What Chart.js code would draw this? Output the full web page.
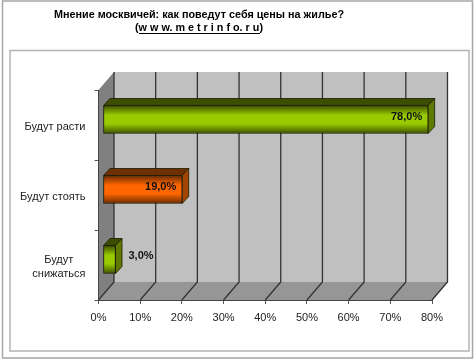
<!DOCTYPE html>
<html><head><meta charset="utf-8">
<style>html,body{margin:0;padding:0;background:#fff}canvas{display:block}</style>
<script src="https://cdn.jsdelivr.net/npm/chart.js@4"></script>
</head><body><canvas id="c" width="475" height="361"></canvas>
<script>
const categories = ["Будут расти", "Будут стоять", ["Будут", "снижаться"]];
const values = [78, 19, 3];
const valueLabels = ["78,0%", "19,0%", "3,0%"];
const faceColors = ["#99cc00", "#ff6600", "#99cc00"];
const edgeColors = ["#3f5200", "#6b2b00", "#3f5200"];
const topColors = ["#3c4c00", "#6e3000", "#3c4c00"];
const sideColors = ["#5f7a00", "#a34400", "#5f7a00"];
const titleLine1 = "Мнение москвичей: как поведут себя цены на жилье?";
const titleLine2 = "(w w w. m e t r i n f o. r u)";

const DX = 15.5, DY = 18, BDX = 4.5, BDY = 5.5, BD = 6.5, BT = 7;

function poly(ctx, pts, fill, stroke, lw) {
  ctx.beginPath();
  pts.forEach((p, i) => i ? ctx.lineTo(p[0], p[1]) : ctx.moveTo(p[0], p[1]));
  ctx.closePath();
  if (fill) { ctx.fillStyle = fill; ctx.fill(); }
  if (stroke) { ctx.strokeStyle = stroke; ctx.lineWidth = lw || 1; ctx.stroke(); }
}

const scene = {
  id: "scene",
  beforeDraw(chart) {
    const { ctx, scales: { x, y } } = chart;
    const l = x.left, r = x.right, t = y.top, b = y.bottom;
    y.getLabelItems(chart.chartArea).forEach(it => { if (!it.shifted) { it.options.translation[1] += 2; it.shifted = true; } });
    ctx.save();
    ctx.fillStyle = "#fff"; ctx.fillRect(0, 0, 475, 361);
    ctx.strokeStyle = "#a6a6a6"; ctx.lineWidth = 1.5; ctx.strokeRect(2.5, 1, 470, 357);
    ctx.strokeStyle = "#b4b4b4"; ctx.lineWidth = 1.5; ctx.strokeRect(10, 50.5, 459, 300.5);
    poly(ctx, [[l + DX, t - DY], [r + DX, t - DY], [r + DX, b - DY], [l + DX, b - DY]], "#c0c0c0");
    poly(ctx, [[l, t], [l + DX, t - DY], [l + DX, b - DY], [l, b]], "#808080");
    poly(ctx, [[l, b], [l + DX, b - DY], [r + DX, b - DY], [r, b]], "#969696");
    ctx.strokeStyle = "#333"; ctx.lineWidth = 1.3;
    x.ticks.forEach(tk => {
      const px = x.getPixelForValue(tk.value);
      ctx.beginPath();
      ctx.moveTo(px, b); ctx.lineTo(px + DX, b - DY); ctx.lineTo(px + DX, t - DY);
      ctx.stroke();
    });
    ctx.restore();
    // title
    ctx.save();
    ctx.fillStyle = "#000"; ctx.textAlign = "center"; ctx.textBaseline = "middle";
    ctx.font = "bold 11px 'Liberation Sans', Arial, sans-serif";
    ctx.fillText(titleLine1, 199, 14.5, 290);
    ctx.fillText(titleLine2, 199, 28, 128);
    ctx.strokeStyle = "#000"; ctx.lineWidth = 1;
    ctx.beginPath(); ctx.moveTo(139, 33.5); ctx.lineTo(260, 33.5); ctx.stroke();
    ctx.restore();
  },
  beforeDatasetsDraw(chart) {
    const { ctx } = chart;
    ctx.save();
    ctx.translate(BDX, -BDY);
    chart.getDatasetMeta(0).data.forEach((el, i) => {
      const x0 = el.base, x1 = el.x, y0 = el.y - el.height / 2, y1 = el.y + el.height / 2;
      poly(ctx, [[x0, y0], [x0 + BD, y0 - BT], [x1 + BD, y0 - BT], [x1, y0]], topColors[i], "#1a1a00", 0.8);
      poly(ctx, [[x1, y0], [x1 + BD, y0 - BT], [x1 + BD, y1 - BT], [x1, y1]], sideColors[i], "#1a1a00", 0.8);
    });
    ctx.restore();
    ctx.save();
    ctx.translate(BDX, -BDY);
  },
  afterDatasetsDraw(chart) {
    const { ctx } = chart;
    ctx.restore();
    ctx.save();
    ctx.fillStyle = "#111";
    ctx.font = "bold 11px 'Liberation Sans', Arial, sans-serif";
    ctx.textBaseline = "middle";
    chart.getDatasetMeta(0).data.forEach((el, i) => {
      const end = el.x + BDX, cy = el.y - BDY - 3.5;
      if (values[i] >= 10) { ctx.textAlign = "right"; ctx.fillText(valueLabels[i], end - 6, cy + 1); }
      else { ctx.textAlign = "left"; ctx.fillText(valueLabels[i], end + 13, cy); }
    });
    ctx.restore();
  }
};

function faceGradient(c) {
  const i = c.dataIndex, chart = c.chart, ys = chart.scales.y;
  if (!ys || i === undefined) return faceColors[i] || faceColors[0];
  const cy = ys.getPixelForValue(i);
  if (!isFinite(cy)) return faceColors[i];
  const g = chart.ctx.createLinearGradient(0, cy - 14, 0, cy + 14);
  g.addColorStop(0, edgeColors[i]);
  g.addColorStop(0.35, faceColors[i]);
  g.addColorStop(0.65, faceColors[i]);
  g.addColorStop(1, edgeColors[i]);
  return g;
}

const font = { family: "'Liberation Sans', Arial, sans-serif", size: 11 };
new Chart(document.getElementById("c"), {
  type: "bar",
  data: { labels: categories, datasets: [{
    data: values, backgroundColor: faceGradient, borderColor: "#1a1a00", borderWidth: 1,
    barThickness: 28, borderSkipped: false
  }] },
  plugins: [scene],
  options: {
    indexAxis: "y", responsive: false, animation: false,
    layout: { padding: { top: 90, right: 43, left: 0, bottom: 0 } },
    plugins: { legend: { display: false }, title: { display: false }, tooltip: { enabled: false } },
    scales: {
      x: {
        type: "linear", min: 0, max: 80,
        afterFit(s) { s.height = 61; },
        ticks: { stepSize: 10, callback: v => v + "%", color: "#222", font, padding: 7, maxRotation: 0 },
        grid: { drawOnChartArea: false, drawTicks: true, tickLength: 4, color: "#555" },
        border: { color: "#444", width: 1 }
      },
      y: {
        type: "category",
        afterFit(s) { s.width = 98.5; },
        ticks: {
          color: "#222", font, padding: 9, crossAlign: "near",
          callback(v, i) {
            const lab = categories[i];
            return Array.isArray(lab) ? [lab[0] + "    ", lab[1]] : lab;
          }
        },
        grid: { drawOnChartArea: false, drawTicks: true, tickLength: 4, color: "#555", offset: true },
        border: { color: "#444", width: 1 }
      }
    }
  }
});
</script></body></html>
